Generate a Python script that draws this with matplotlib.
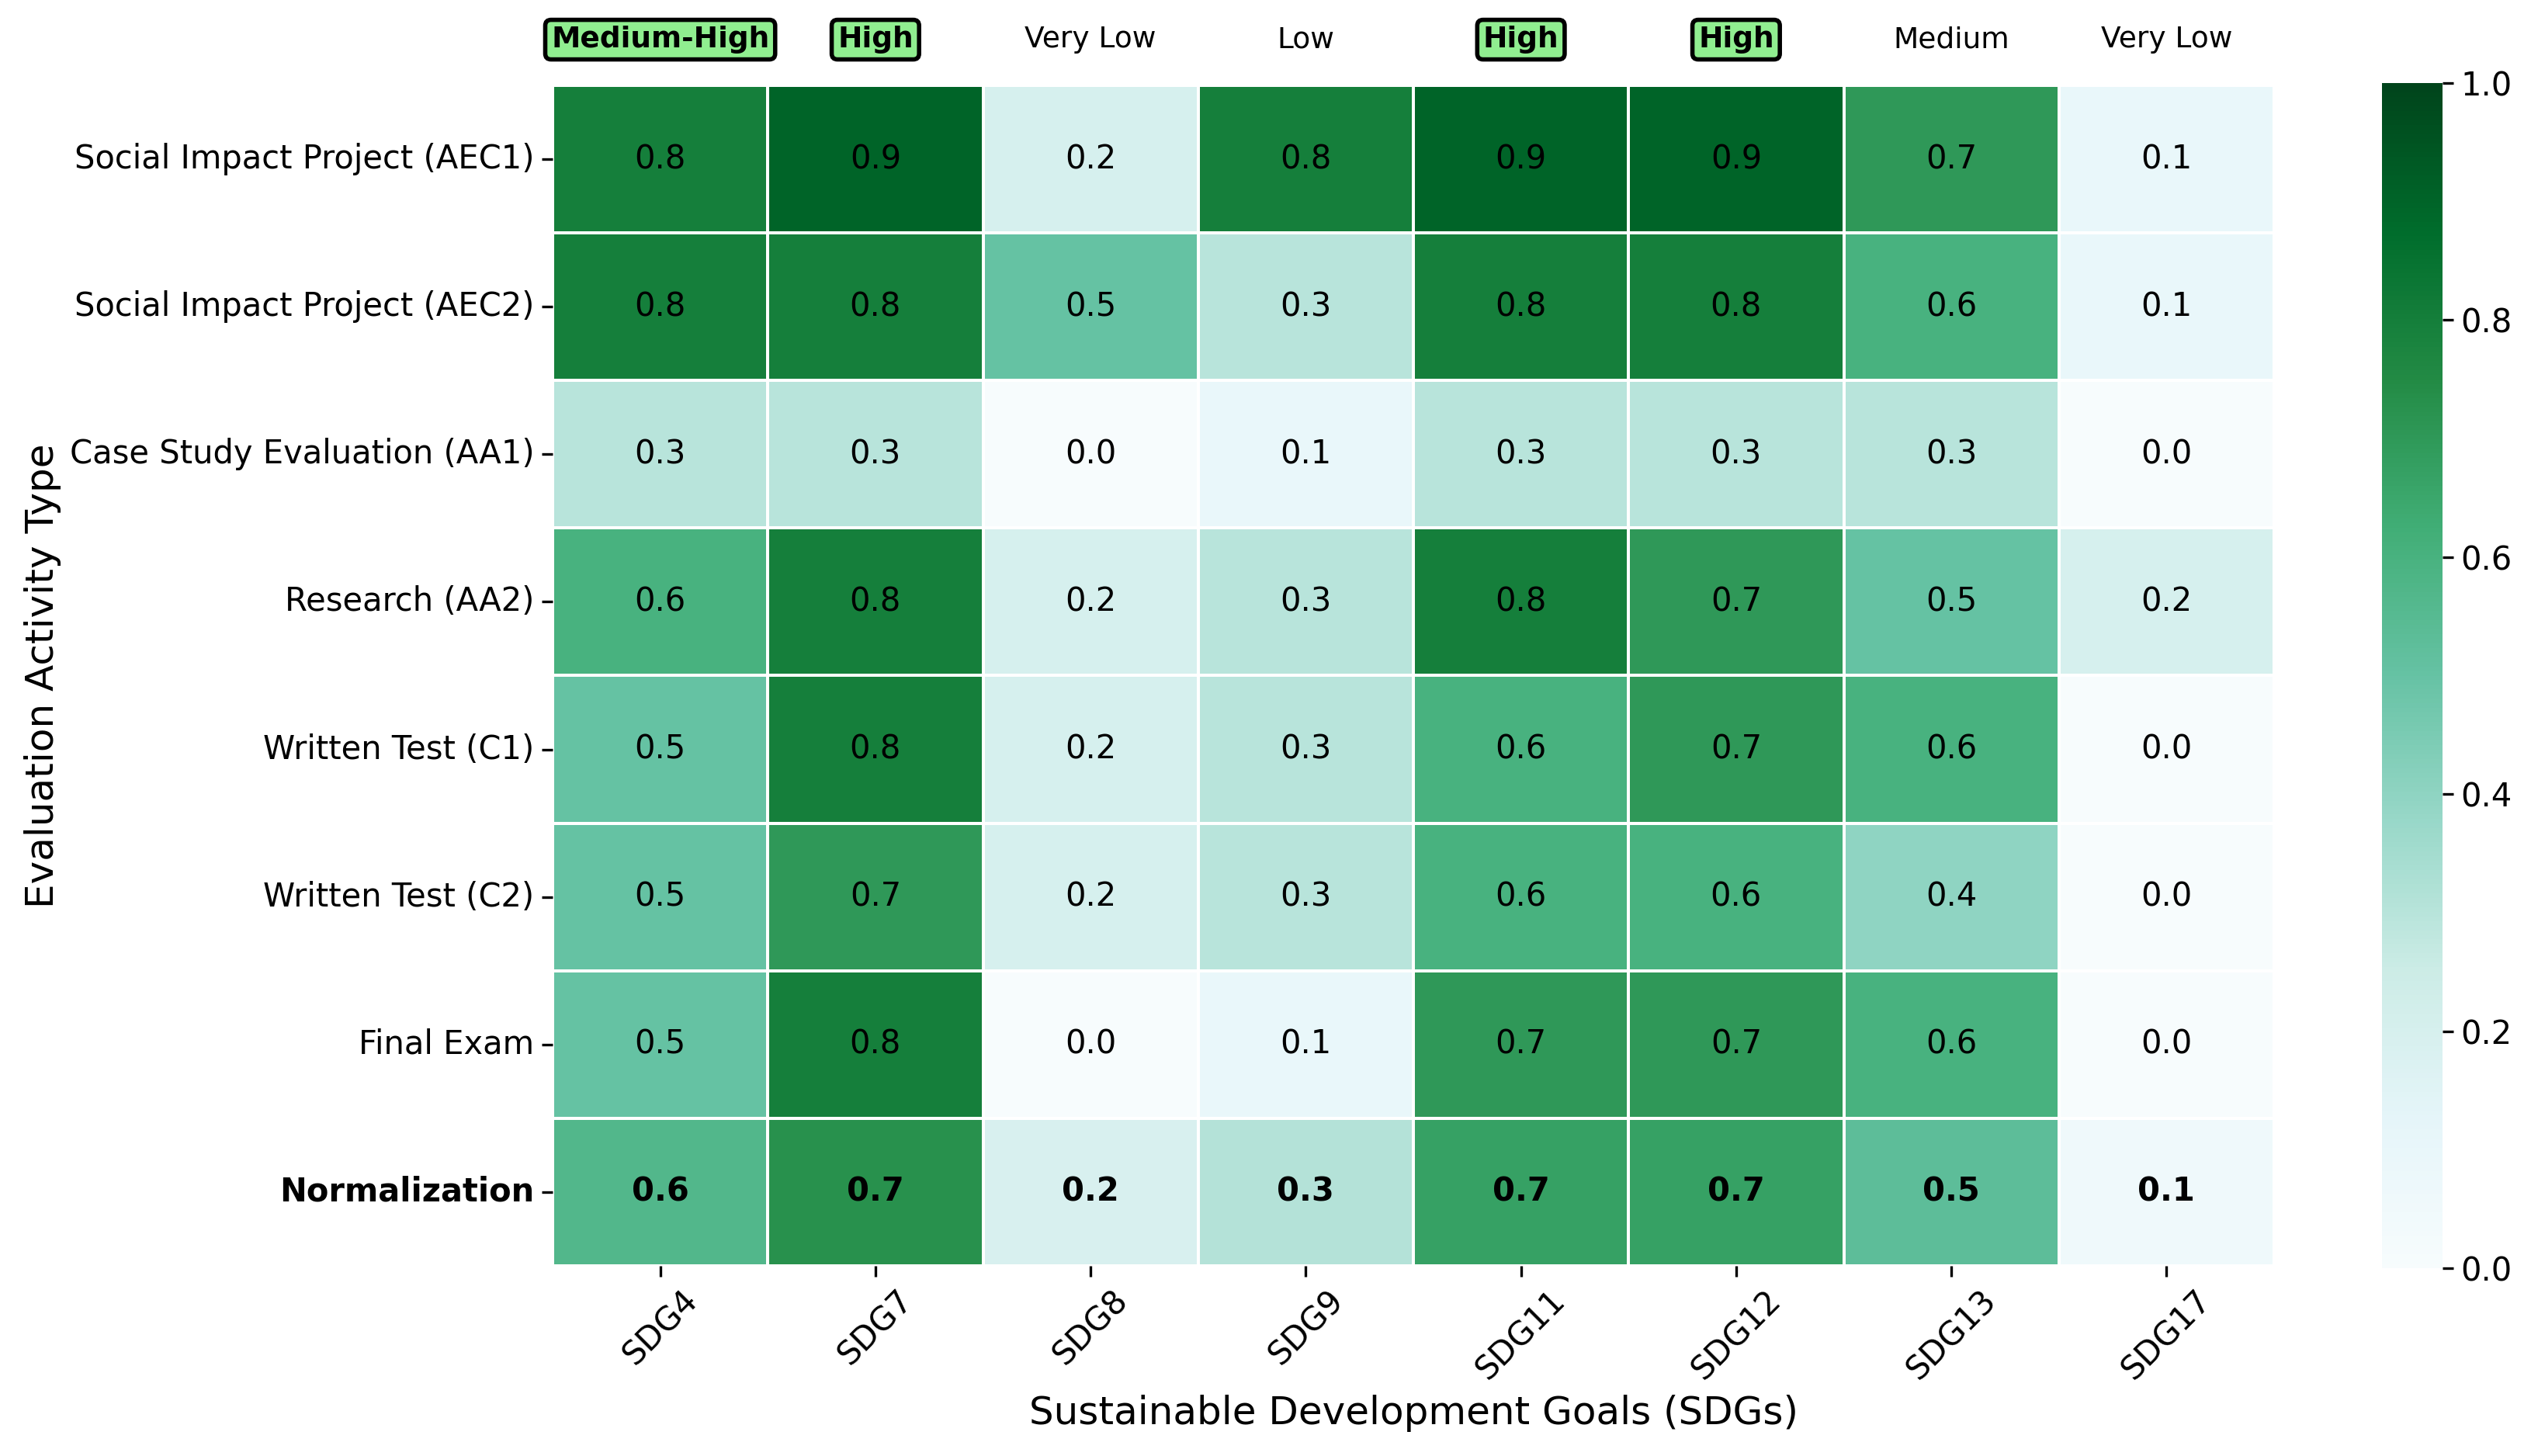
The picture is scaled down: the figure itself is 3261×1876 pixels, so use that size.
import matplotlib
matplotlib.use('Agg')
import matplotlib.pyplot as plt
import seaborn as sns
import numpy as np
import pandas as pd

sdgs = ['SDG4', 'SDG7', 'SDG8', 'SDG9', 'SDG11', 'SDG12', 'SDG13', 'SDG17']
activities = ['Social Impact Project (AEC1)', 'Social Impact Project (AEC2)',
              'Case Study Evaluation (AA1)', 'Research (AA2)', 'Written Test (C1)',
              'Written Test (C2)', 'Final Exam', 'Normalization']

aec1 = [0.8, 0.9, 0.2, 0.8, 0.9, 0.9, 0.7, 0.1]
aec2 = [0.8, 0.8, 0.5, 0.3, 0.8, 0.8, 0.6, 0.1]
aa1 = [0.3, 0.3, 0.0, 0.1, 0.3, 0.3, 0.3, 0.0]
aa2 = [0.6, 0.8, 0.2, 0.3, 0.8, 0.7, 0.5, 0.2]
c1 = [0.5, 0.8, 0.2, 0.3, 0.6, 0.7, 0.6, 0.0]
c2 = [0.5, 0.7, 0.2, 0.3, 0.6, 0.6, 0.4, 0.0]
final_exam = [0.5, 0.8, 0.0, 0.1, 0.7, 0.7, 0.6, 0.0]
normalization = [0.57, 0.73, 0.19, 0.31, 0.67, 0.67, 0.53, 0.06]

levels = ['Medium-High', 'High', 'Very Low', 'Low', 'High', 'High', 'Medium', 'Very Low']
highlight = ['Medium-High', 'High']

df = pd.DataFrame([aec1, aec2, aa1, aa2, c1, c2, final_exam, normalization],
                  index=activities, columns=sdgs)

W, H = 3261, 1876
fig = plt.figure(figsize=(W / 200, H / 200), dpi=200)
ax = fig.add_axes([712 / W, 1 - 1631 / H, (2930 - 712) / W, (1631 - 110) / H])
cax = fig.add_axes([3069 / W, 1 - 1634 / H, (3147 - 3069) / W, (1634 - 107) / H])

sns.heatmap(df, ax=ax, cbar_ax=cax, cmap='BuGn', vmin=0, vmax=1, annot=True, fmt='.1f',
            linewidths=0.75, linecolor='white', annot_kws={'fontsize': 15, 'color': 'black'})

# bold the normalization row
n = len(sdgs)
for t in ax.texts[-n:]:
    t.set_fontweight('bold')

ax.set_xticklabels(sdgs, rotation=45, ha='center', fontsize=15)
ax.set_yticklabels(activities, rotation=0, fontsize=15)
ax.get_yticklabels()[-1].set_fontweight('bold')
ax.tick_params(width=1.2, length=5)

ax.set_xlabel('Sustainable Development Goals (SDGs)', fontsize=18)
ax.set_ylabel('Evaluation Activity Type', fontsize=18)

for i, lvl in enumerate(levels):
    if lvl in highlight:
        ax.text(i + 0.5, -0.31, lvl, ha='center', va='center', fontsize=13.5, fontweight='bold',
                bbox=dict(boxstyle='round,pad=0.2', facecolor='lightgreen', edgecolor='black', linewidth=2))
    else:
        ax.text(i + 0.5, -0.31, lvl, ha='center', va='center', fontsize=13.5)

cax.tick_params(labelsize=15, width=1.2, length=5)
cax.set_yticks([0, 0.2, 0.4, 0.6, 0.8, 1.0])

fig.savefig('out.png', dpi=200)
